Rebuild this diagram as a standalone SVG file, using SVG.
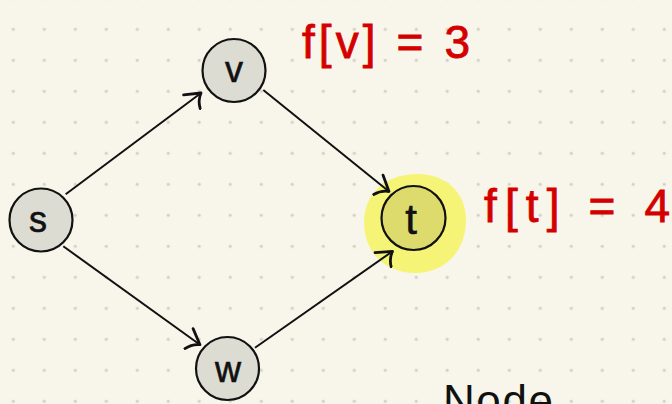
<svg xmlns="http://www.w3.org/2000/svg" width="672" height="404" viewBox="0 0 672 404">
<defs>
<pattern id="dots" x="13.3" y="29.3" width="31" height="31" patternUnits="userSpaceOnUse">
<circle cx="0" cy="0" r="1.6" fill="#cfcdc4"/>
<circle cx="31" cy="0" r="1.6" fill="#cfcdc4"/>
<circle cx="0" cy="31" r="1.6" fill="#cfcdc4"/>
<circle cx="31" cy="31" r="1.6" fill="#cfcdc4"/>
</pattern>
<marker id="arr" viewBox="-18 -13 22 26" refX="0" refY="0" markerWidth="22" markerHeight="26" markerUnits="userSpaceOnUse" orient="auto">
<path d="M -15 -9 Q -5 -3 0 0 Q -7 4 -10 12" fill="none" stroke="#111" stroke-width="2.8" stroke-linecap="round" stroke-linejoin="round"/>
</marker>
<style>
.node{fill:#dcdcd2;stroke:#111;stroke-width:2.2}
.lbl{font-family:"Liberation Sans",Arial,sans-serif;font-size:36px;fill:#111;text-anchor:middle;stroke:#111;stroke-width:0.6}
.edge{stroke:#111;stroke-width:2;fill:none;marker-end:url(#arr)}
.red{font-family:"Liberation Sans",Arial,sans-serif;font-size:46px;fill:#d40000;stroke:#d40000;stroke-width:0.8}
</style>
</defs>
<rect width="672" height="404" fill="#f8f6ea"/>
<rect width="672" height="404" fill="url(#dots)"/>
<g id="highlight">
<path d="M 415 174 C 445 173 466 192 466 220 C 466 250 446 273 415 273 C 385 273 364 252 364 222 C 364 193 386 175 415 174 Z" fill="#f6f477"/>
</g>
<g id="connectors">
<line class="edge" x1="65.7" y1="194.3" x2="201" y2="93"/>
<line class="edge" x1="263.3" y1="90" x2="389" y2="191.5"/>
<line class="edge" x1="63.3" y1="246.3" x2="200" y2="344.7"/>
<line class="edge" x1="255" y1="347.7" x2="392.5" y2="251.3"/>
</g>
<g id="node-v">
<circle class="node" cx="234" cy="70.5" r="31.5"/>
<text class="lbl" x="234" y="82">v</text>
</g>
<g id="node-s">
<circle class="node" cx="41" cy="220" r="31.5"/>
<text class="lbl" x="38" y="232">s</text>
</g>
<g id="node-w">
<circle class="node" cx="227.5" cy="368.5" r="31.5"/>
<text class="lbl" x="228" y="382">w</text>
</g>
<g id="node-t">
<circle class="node" cx="413.5" cy="218" r="32" style="fill:#dcdb6c"/>
<text class="lbl" x="411" y="234" style="font-size:42px">t</text>
</g>
<g id="labels">
<text class="red" x="302" y="58" textLength="168" lengthAdjust="spacing">f[v] = 3</text>
<text class="red" x="484" y="222" textLength="186" lengthAdjust="spacing">f[t] = 4</text>
<text x="443" y="416" style="font-family:'Liberation Sans',Arial,sans-serif;font-size:44px;fill:#111" textLength="110" lengthAdjust="spacing">Node</text>
</g>
</svg>
